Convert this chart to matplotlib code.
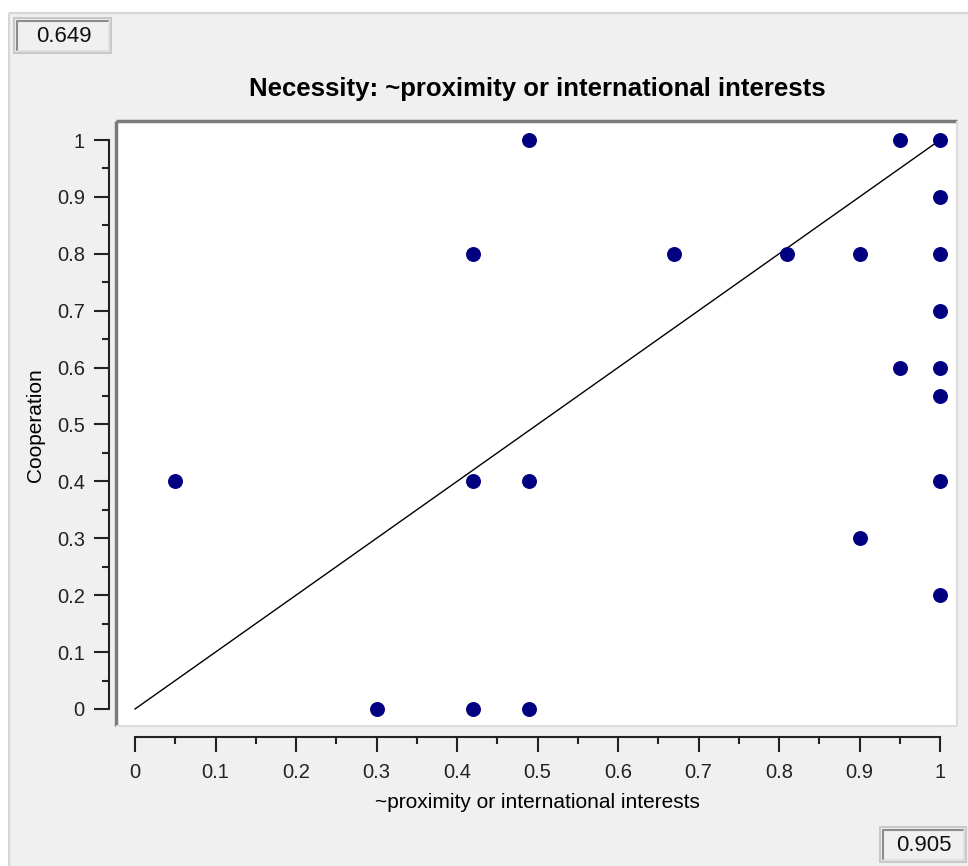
import matplotlib.pyplot as plt
from matplotlib.patches import Rectangle
from matplotlib.ticker import MultipleLocator

# membership scores
x_vals = [0.05, 0.30, 0.42, 0.42, 0.42, 0.49, 0.49, 0.49, 0.67, 0.81,
          0.90, 0.90, 0.95, 0.95, 1.00, 1.00, 1.00, 1.00, 1.00, 1.00, 1.00, 1.00]
y_vals = [0.40, 0.00, 0.80, 0.40, 0.00, 1.00, 0.40, 0.00, 0.80, 0.80,
          0.80, 0.30, 1.00, 0.60, 1.00, 0.90, 0.80, 0.70, 0.60, 0.55, 0.40, 0.20]
consistency = "0.649"
coverage = "0.905"
title = "Necessity: ~proximity or international interests"
xlabel = "~proximity or international interests"
ylabel = "Cooperation"

W, H = 968, 866
BG = "#f0f0f0"
plt.rcParams["font.family"] = ["Liberation Sans", "DejaVu Sans"]

fig = plt.figure(figsize=(W / 100, H / 100), dpi=100, facecolor="white")


def fx(px):
    return px / W


def fy(py):
    return 1 - py / H


def line(xs, ys, color, lw, z=5):
    fig.add_artist(plt.Line2D([fx(v) for v in xs], [fy(v) for v in ys],
                              color=color, lw=lw, zorder=z, solid_capstyle="butt"))


# window background with a light border at top / left
fig.patches.append(Rectangle((fx(9), 0), 1 - fx(9), fy(13), transform=fig.transFigure,
                             facecolor=BG, edgecolor="none", zorder=-5))
line([9, W], [13, 13], "#d6d6d6", 1.5, -4)
line([9, 9], [13, H], "#d6d6d6", 1.5, -4)

# plot panel (white with sunken frame)
pl, pr, pt, pb = 116, 957, 121, 726
ax = fig.add_axes([fx(pl), fy(pb), fx(pr - pl), fy(pt) - fy(pb)])
ax.set_zorder(1)
ax.set_facecolor("white")
x0, x1 = 135, 940   # pixel of x=0 and x=1
y0, y1 = 709, 140   # pixel of y=0 and y=1
ax.set_xlim((pl - x0) / (x1 - x0), (pr - x0) / (x1 - x0))
ax.set_ylim((y0 - pb) / (y0 - y1), (y0 - pt) / (y0 - y1))

for s in ax.spines.values():
    s.set_visible(False)
line([pl, pr], [pt, pt], "#7a7a7a", 2.5)
line([pl, pl], [pb, pt], "#7a7a7a", 2.5)
line([pr, pr], [pb, pt], "#dcdcdc", 1.5)
line([pl, pr], [pb, pb], "#dcdcdc", 1.5)

# axes drawn outside the panel
ax.spines["left"].set_visible(True)
ax.spines["left"].set_position(("outward", 5))
ax.spines["left"].set_bounds(0, 1)
ax.spines["bottom"].set_visible(True)
ax.spines["bottom"].set_position(("outward", 8))
ax.spines["bottom"].set_bounds(0, 1)
for s in ("left", "bottom"):
    ax.spines[s].set_color("#222222")
    ax.spines[s].set_linewidth(1.5)

ax.xaxis.set_major_locator(MultipleLocator(0.1))
ax.xaxis.set_minor_locator(MultipleLocator(0.05))
ax.yaxis.set_major_locator(MultipleLocator(0.1))
ax.yaxis.set_minor_locator(MultipleLocator(0.05))
fmt = lambda v, _: "0" if abs(v) < 1e-9 else ("1" if abs(v - 1) < 1e-9 else f"{v:.1f}")
ax.xaxis.set_major_formatter(fmt)
ax.yaxis.set_major_formatter(fmt)
ax.tick_params(which="major", length=10.5, width=1.5, color="#222222", labelsize=14.5,
               labelcolor="#222222")
ax.tick_params(axis="x", which="major", pad=8)
ax.tick_params(axis="y", which="major", pad=7)
ax.tick_params(which="minor", length=5, width=1.5, color="#222222")

ax.plot([0, 1], [0, 1], color="black", lw=1)
ax.scatter(x_vals, y_vals, s=95, color="#000080", zorder=3, clip_on=False)

fig.text(fx(537), fy(89), title, ha="center", va="center", fontsize=18.5, fontweight="bold")
fig.text(fx(537), fy(803), xlabel, ha="center", va="center", fontsize=15)
fig.text(fx(35), fy(425), ylabel, ha="center", va="center", fontsize=15, rotation=90)


def value_box(l, t, r, b, text):
    # sunken text field: light outer edge, dark inner top/left
    fig.patches.append(Rectangle((fx(l), fy(b)), fx(r - l), fy(t) - fy(b),
                                 transform=fig.transFigure, facecolor=BG,
                                 edgecolor="#c8c8c8", lw=1.5, zorder=1))
    line([l + 3, l + 3, r - 2], [b - 2, t + 3, t + 3], "#8c8c8c", 1.5, 2)
    line([l + 3, r - 2, r - 2], [b - 2, b - 2, t + 3], "#dcdcdc", 1.2, 2)
    fig.text(fx((l + r) / 2 + 1), fy((t + b) / 2 + 1), text, ha="center", va="center",
             fontsize=16, color="#111111")


value_box(14, 18, 111, 53, consistency)
value_box(880, 827, 966, 862, coverage)

fig.savefig("out.png", dpi=100, facecolor=fig.get_facecolor())
